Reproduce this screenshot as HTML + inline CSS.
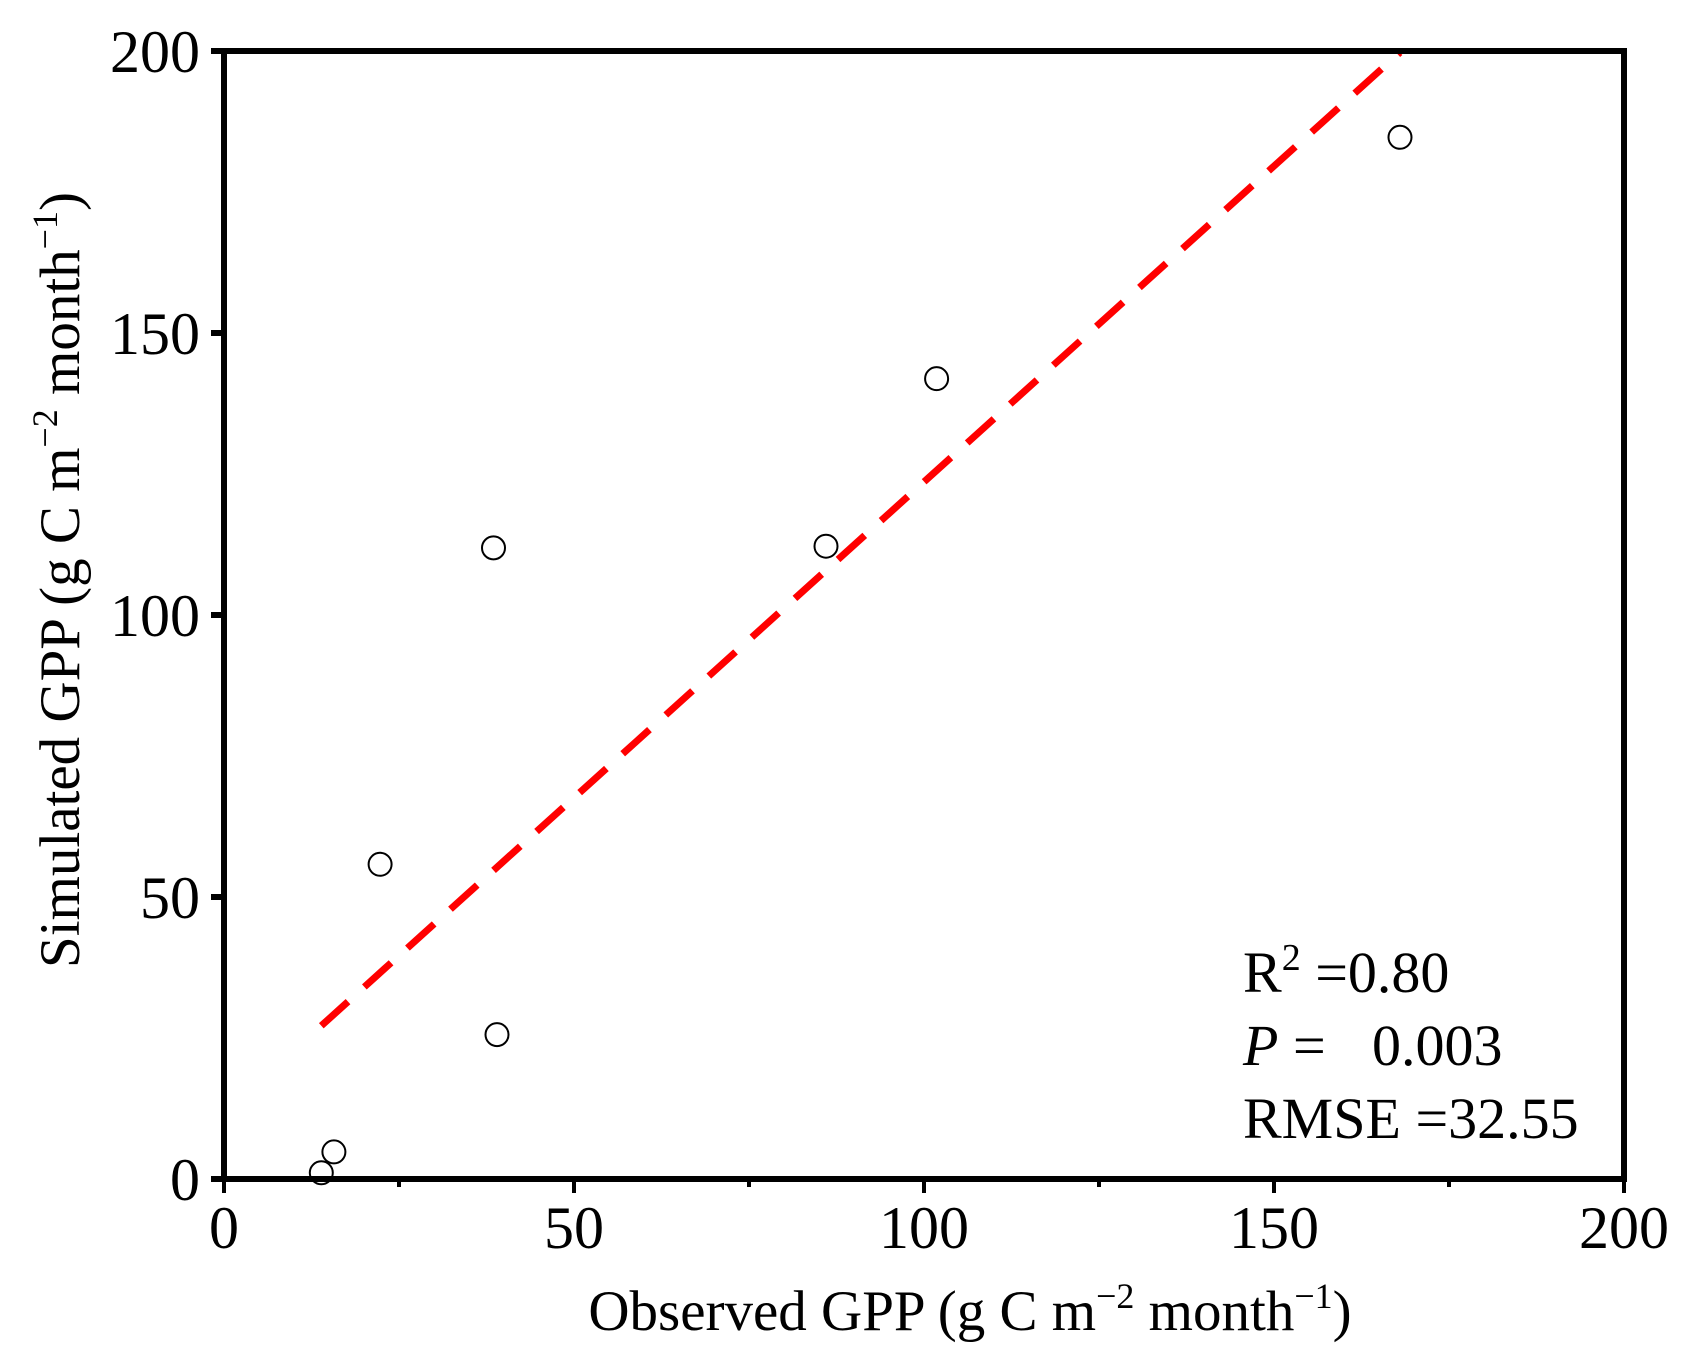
<!DOCTYPE html>
<html><head><meta charset="utf-8"><style>
html,body{margin:0;padding:0;background:#fff}
svg text{font-family:"Liberation Serif",serif;fill:#000}
</style></head><body>
<svg id="chart" width="1691" height="1364" viewBox="0 0 1691 1364" xmlns="http://www.w3.org/2000/svg"></svg>
<script>
const obsX = [13.9, 15.7, 22.3, 38.5, 39.0, 86.0, 101.8, 168.0];
const simY = [1.1, 4.8, 55.8, 111.9, 25.6, 112.2, 141.9, 184.7];
const xTicks = [0, 50, 100, 150, 200];
const yTicks = [0, 50, 100, 150, 200];
const fitSlope = [1.12];
const fitIntercept = [11.6];
const fitRange = [13.9, 168.0];

const L=224, R=1624, T=51, B=1179;
const sx = v => L + (v/200)*(R-L);
const sy = v => B - (v/200)*(B-T);
const NS="http://www.w3.org/2000/svg";
const svg=document.getElementById('chart');
function mk(tag, attrs, parent){const e=document.createElementNS(NS,tag);for(const k in attrs)e.setAttribute(k,attrs[k]);(parent||svg).appendChild(e);return e;}

const fl=mk('line',{x1:sx(fitRange[0]),y1:sy(fitSlope[0]*fitRange[0]+fitIntercept[0]),x2:sx(fitRange[1]),y2:sy(fitSlope[0]*fitRange[1]+fitIntercept[0]),stroke:'#ff0000','stroke-width':7,'stroke-dasharray':'36,22'});



obsX.forEach((x,i)=>{
  const c=mk('circle',{cx:sx(x),cy:sy(simY[i]),r:11.5,fill:'#fff',stroke:'#000','stroke-width':2});
  
  
});

const fr=mk('rect',{x:L,y:T,width:R-L,height:B-T,fill:'none',stroke:'#000','stroke-width':6});



xTicks.forEach(v=>{
  const t=mk('line',{x1:sx(v),y1:B,x2:sx(v),y2:B+14,stroke:'#000','stroke-width':4});
  
  
  const lb=mk('text',{x:sx(v),y:1248,'font-size':60,'text-anchor':'middle'});
  lb.textContent=v;
  
  
});
for(let v=25; v<200; v+=50){
  const t=mk('line',{x1:sx(v),y1:B,x2:sx(v),y2:B+8,stroke:'#000','stroke-width':4});
  
  
}
yTicks.forEach(v=>{
  const t=mk('line',{x1:L-13,y1:sy(v),x2:L,y2:sy(v),stroke:'#000','stroke-width':6});
  
  
  const lb=mk('text',{x:200,y:sy(v)+21,'font-size':60,'text-anchor':'end'});
  lb.textContent=v;
  
  
});
</script>
<script>
(function(){
const svg=document.getElementById('chart');
svg.insertAdjacentHTML('beforeend',
`<text x="970" y="1330" font-size="57" text-anchor="middle">Observed GPP (g C m<tspan dy="-22" font-size="36">−2</tspan><tspan dy="22"> month</tspan><tspan dy="-22" font-size="36">−1</tspan><tspan dy="22">)</tspan></text>
<text transform="translate(79,580) rotate(-90)" font-size="57" text-anchor="middle">Simulated GPP (g C m<tspan dy="-22" font-size="36">−2</tspan><tspan dy="22"> month</tspan><tspan dy="-22" font-size="36">−1</tspan><tspan dy="22">)</tspan></text>
<text x="1243" y="992" font-size="58">R<tspan dy="-22" font-size="38">2</tspan><tspan dy="22"> =0.80</tspan></text>
<text x="1243" y="1065" font-size="58"><tspan font-style="italic">P</tspan> =   <tspan x="1372">0.003</tspan></text>
<text x="1243" y="1138" font-size="58">RMSE =32.55</text>`);
})();
</script>
</body></html>
